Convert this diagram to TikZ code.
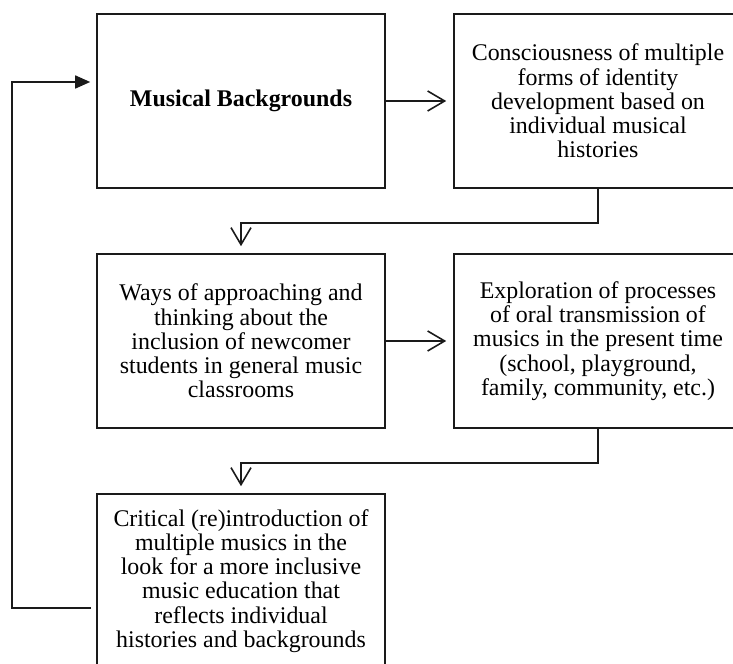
\documentclass[tikz,border=0pt]{standalone}
\usepackage{fontspec}
\setmainfont{Liberation Serif}
\usepackage{xcolor}
\usepackage{tikz}
\usetikzlibrary{positioning, arrows.meta}
\definecolor{lineDark}{HTML}{1A1A1A}

\begin{document}
\begin{tikzpicture}[x=1bp, y=1bp,
    every node/.style={font=\fontsize{24}{24.3}\selectfont},
    stagebox/.style={draw=lineDark, line width=1.6bp, minimum width=288bp,
      minimum height=174bp, align=center, inner sep=0pt},
    flow/.style={draw=lineDark, line width=1.6bp, shorten >=7bp,
      -{Straight Barb[length=17bp, width=20bp]}},
    loopback/.style={draw=lineDark, line width=1.6bp, shorten >=6bp,
      -{Triangle[length=15bp, width=13bp]}}]
  \useasboundingbox (0, 0) rectangle (733, 664);
  \clip (0, 0) rectangle (733, 664);
  % Row 1
  \node[stagebox] (mus) at (241, 563) {\textbf{Musical Backgrounds}};
  \node[stagebox] (con) at (598, 563) {Consciousness of multiple\\forms of identity\\development based on\\individual musical\\histories};
  % Row 2
  \node[stagebox] (ways) at (241, 323) {Ways of approaching and\\thinking about the\\inclusion of newcomer\\students in general music\\classrooms};
  \node[stagebox] (expl) at (598, 323) {Exploration of processes\\of oral transmission of\\musics in the present time\\(school, playground,\\family, community, etc.)};
  % Row 3
  \node[stagebox] (crit) at (241, 83) {Critical (re)introduction of\\multiple musics in the\\look for a more inclusive\\music education that\\reflects individual\\histories and backgrounds};
  % Forward arrows
  \draw[flow] (mus.east) -- (con.west);
  \draw[flow] (con.south) -- ++(0, -34) -| (ways.north);
  \draw[flow] (ways.east) -- (expl.west);
  \draw[flow] (expl.south) -- ++(0, -34) -| (crit.north);
  % Loop back to the start — LEFT
  \coordinate (loopEnd) at ([xshift=-5bp, yshift=-27bp]crit.west);
  \coordinate (loopIn) at ([yshift=19bp]mus.west);
  \coordinate (loopX) at (12, 0);
  \draw[loopback] (loopEnd) -- (loopEnd -| loopX) |- (loopIn);
\end{tikzpicture}
\end{document}
